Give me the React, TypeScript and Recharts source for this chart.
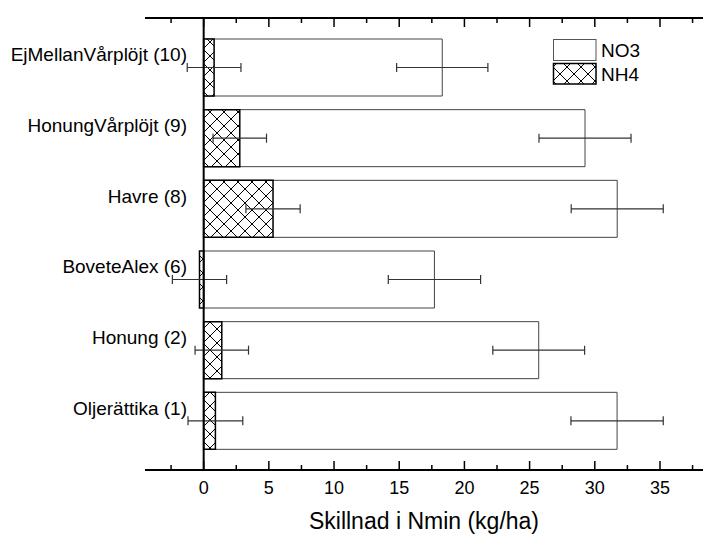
import React from 'react';
import { BarChart, Bar, XAxis, YAxis, ErrorBar, ReferenceLine, Legend, Label } from 'recharts';

const categories = [
  'EjMellanVårplöjt (10)',
  'HonungVårplöjt (9)',
  'Havre (8)',
  'BoveteAlex (6)',
  'Honung (2)',
  'Oljerättika (1)',
];
const no3Values = [18.3, 29.25, 31.72, 17.7, 25.7, 31.71];
const no3Errors = [3.5, 3.53, 3.53, 3.54, 3.52, 3.54];
const nh4Values = [0.8, 2.77, 5.32, -0.32, 1.39, 0.9];
const nh4Errors = [2.06, 2.05, 2.08, 2.08, 2.05, 2.1];
const xTicks = [-2.5, 0, 2.5, 5, 7.5, 10, 12.5, 15, 17.5, 20, 22.5, 25, 27.5, 30, 32.5, 35, 37.5];
const majorLabels = [0, 5, 10, 15, 20, 25, 30, 35];
const xDomain = [-4.5, 38.3];
const axisTitle = 'Skillnad i Nmin (kg/ha)';
const legendOrder = ['NO3', 'NH4'];

const data = categories.map((name, i) => ({
  name,
  no3: no3Values[i],
  no3Err: no3Errors[i],
  nh4: nh4Values[i],
  nh4Err: nh4Errors[i],
}));

const FONT = "Arial, 'Liberation Sans', sans-serif";

const BottomTick = (props: any) => {
  const { x, y, payload } = props;
  const v = payload.value;
  const major = majorLabels.includes(v);
  return (
    <g>
      <line x1={x} x2={x} y1={y} y2={y - (major ? 9 : 5)} stroke="#000" strokeWidth={1.5} />
      {major && (
        <text x={x} y={y + 24} textAnchor="middle" fontSize={18} fontFamily={FONT} fill="#000">
          {v}
        </text>
      )}
    </g>
  );
};

const TopTick = (props: any) => {
  const { x, y, payload } = props;
  const major = majorLabels.includes(payload.value);
  return <line x1={x} x2={x} y1={y} y2={y + (major ? 9 : 5)} stroke="#000" strokeWidth={1.5} />;
};

const CatTick = (props: any) => {
  const { x, y, payload } = props;
  return (
    <text x={x + 42} y={y - 6} textAnchor="end" fontSize={19} fontFamily={FONT} fill="#000">
      {payload.value}
    </text>
  );
};

const LegendContent = (props: any) => {
  const payload = [...(props.payload || [])].sort(
    (a: any, b: any) => legendOrder.indexOf(a.value) - legendOrder.indexOf(b.value)
  );
  return (
    <svg width={110} height={50} style={{ display: 'block', overflow: 'visible' }}>
      <defs>
        <pattern id="hatchLegend" patternUnits="userSpaceOnUse" width={14} height={14}>
          <rect width={14} height={14} fill="#fff" />
          <path d="M0,0 L14,14 M14,0 L0,14" stroke="#000" strokeWidth={1} />
        </pattern>
      </defs>
      {payload.map((p: any, i: number) => {
        const isNH4 = p.value === 'NH4';
        const top = i === 0 ? 0.5 : 24.5;
        const h = i === 0 ? 21 : 20.5;
        return (
          <g key={p.value}>
            <rect
              x={0.5}
              y={top}
              width={42.5}
              height={h}
              fill={isNH4 ? 'url(#hatchLegend)' : '#fff'}
              stroke={isNH4 ? '#000' : '#555'}
              strokeWidth={isNH4 ? 1.5 : 1}
            />
            <text x={48} y={top + h / 2 + 7} fontSize={19} fontFamily={FONT} fill="#000">
              {p.value}
            </text>
          </g>
        );
      })}
    </svg>
  );
};

export default function App() {
  return (
    <div style={{ position: 'absolute', left: 0, top: 0, width: 703, height: 534, background: '#fff' }}>
      <BarChart
        width={703}
        height={534}
        data={data}
        layout="vertical"
        margin={{ top: 17, right: 0, bottom: 0, left: 85 }}
        barSize={57}
        barGap={-57}
      >
        <defs>
          <pattern id="hatchBar" patternUnits="userSpaceOnUse" width={14} height={14}>
            <rect width={14} height={14} fill="#fff" />
            <path d="M0,0 L14,14 M14,0 L0,14" stroke="#000" strokeWidth={1} />
          </pattern>
        </defs>
        <XAxis
          xAxisId="t"
          type="number"
          orientation="top"
          domain={xDomain}
          allowDataOverflow
          ticks={xTicks}
          interval={0}
          tick={<TopTick />}
          tickLine={false}
          tickSize={0}
          tickMargin={0}
          height={1}
          axisLine={{ stroke: '#000', strokeWidth: 2 }}
        />
        <XAxis
          xAxisId="b"
          type="number"
          orientation="bottom"
          domain={xDomain}
          allowDataOverflow
          ticks={xTicks}
          interval={0}
          tick={<BottomTick />}
          tickLine={false}
          tickSize={0}
          tickMargin={0}
          height={64}
          axisLine={{ stroke: '#000', strokeWidth: 2 }}
        >
          <Label value={axisTitle} position="insideBottom" offset={5} fontSize={23} fontFamily={FONT} fill="#000" />
        </XAxis>
        <YAxis
          type="category"
          dataKey="name"
          width={60}
          padding={{ top: 14, bottom: 14 }}
          axisLine={false}
          tickLine={false}
          tickSize={0}
          tickMargin={0}
          interval={0}
          tick={<CatTick />}
        />
        <Legend
          layout="vertical"
          align="center"
          verticalAlign="middle"
          content={<LegendContent />}
          wrapperStyle={{ left: 553, top: 39, width: 110, height: 50 }}
        />
        <Bar xAxisId="b" dataKey="no3" name="NO3" fill="#fff" stroke="#444" strokeWidth={1} isAnimationActive={false}>
          <ErrorBar dataKey="no3Err" direction="x" width={4.5} stroke="#333" strokeWidth={1.2} />
        </Bar>
        <Bar xAxisId="b" dataKey="nh4" name="NH4" fill="url(#hatchBar)" stroke="#000" strokeWidth={1.5} isAnimationActive={false}>
          <ErrorBar dataKey="nh4Err" direction="x" width={4.5} stroke="#333" strokeWidth={1.2} />
        </Bar>
        <ReferenceLine xAxisId="b" x={0} stroke="#000" strokeWidth={2} />
      </BarChart>
    </div>
  );
}
